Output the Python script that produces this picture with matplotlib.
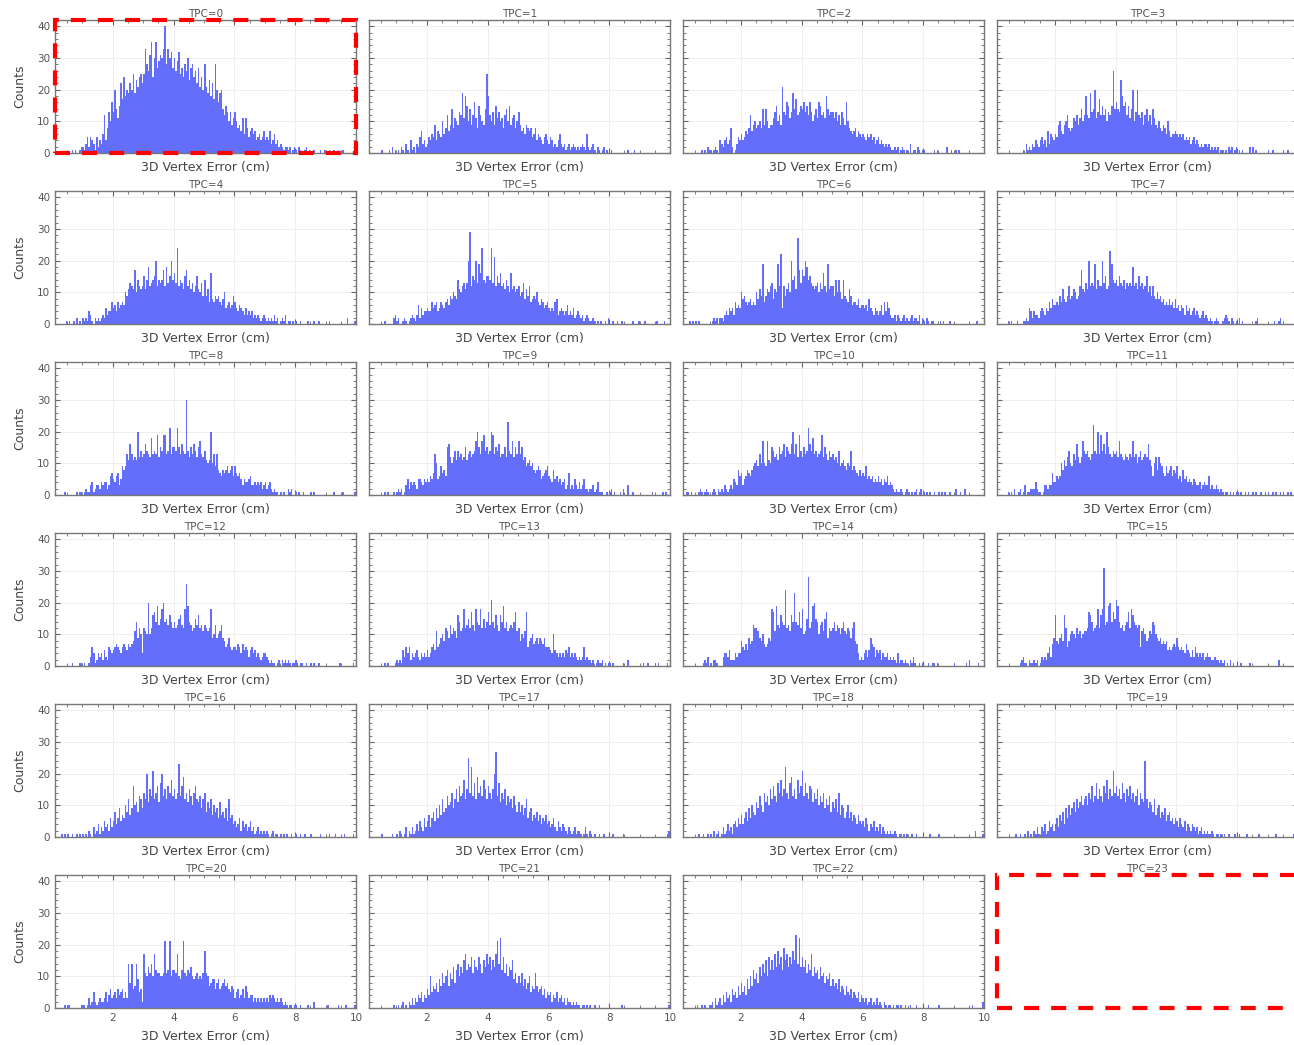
import numpy as np
import matplotlib
matplotlib.use("Agg")
import matplotlib.pyplot as plt
from matplotlib.ticker import MultipleLocator
from matplotlib.patches import Rectangle

# Histogram counts per TPC, 0.05 cm bins from 0 to 10 cm (one line = 1 cm)
tpc0 = [0,0,0,0,0,0,0,0,0,0,0,0,0,1,0,1,0,0,1,2,
        2,1,3,5,2,5,4,3,1,5,2,4,3,6,12,4,8,13,10,16,
        13,20,14,11,15,22,17,24,18,20,19,22,20,25,19,23,21,24,25,22,
        25,33,28,26,31,35,24,30,35,27,29,31,30,33,40,28,33,30,32,27,
        30,26,29,32,25,27,24,28,26,30,23,27,28,24,26,22,27,21,24,20,
        28,21,19,23,18,22,17,28,20,16,19,20,14,12,15,13,10,13,9,11,
        13,10,8,9,7,11,6,11,8,5,7,8,6,7,4,5,6,4,5,7,
        4,5,4,7,3,4,6,3,4,2,3,2,1,2,2,1,2,0,1,2,
        1,0,2,1,0,0,1,2,0,1,0,0,1,0,0,0,1,0,0,1,
        0,0,1,0,0,1,0,0,1,0,0,1,0,0,0,0,0,0,0,1]
tpc1 = [0,0,0,0,0,0,0,0,0,0,1,0,0,0,0,1,0,2,0,1,
        0,1,0,2,1,0,3,1,0,4,1,2,0,3,2,5,7,3,4,2,
        3,5,4,6,5,9,4,7,6,5,10,6,8,12,7,9,14,8,11,10,
        9,13,12,19,11,18,15,10,14,9,12,16,11,8,15,12,10,9,14,25,
        18,12,10,13,9,15,11,13,10,11,8,12,14,10,15,9,11,12,8,10,
        13,9,7,8,6,9,8,7,8,5,6,8,4,6,5,4,3,5,6,4,
        3,5,4,2,3,2,4,6,3,2,3,1,2,3,1,2,3,2,1,2,
        1,2,3,2,1,6,2,1,2,3,1,0,2,1,0,1,2,0,1,0,
        0,1,0,0,0,0,0,0,0,0,0,0,1,0,0,0,1,0,0,0,
        0,0,0,0,0,0,0,0,0,0,0,0,0,0,0,0,0,0,0,0]
tpc2 = [0,0,0,0,0,0,0,0,0,0,0,0,0,0,1,0,1,0,2,1,
        1,0,1,2,1,0,4,3,2,4,5,3,4,8,2,0,1,3,5,4,
        6,4,5,7,6,8,12,7,9,10,8,9,10,8,14,9,14,10,8,9,
        9,11,13,15,10,12,9,21,13,12,16,15,11,13,19,14,17,12,13,15,
        14,16,13,15,12,16,13,10,12,14,11,16,15,12,13,11,18,14,12,13,
        13,11,13,10,12,9,13,11,9,16,10,8,7,6,7,8,5,7,6,5,
        6,5,4,6,5,6,4,5,3,4,5,3,4,3,2,3,2,3,2,1,
        1,2,1,2,0,1,2,1,0,1,0,3,0,1,1,0,2,1,0,1,
        1,0,0,0,0,0,0,1,0,1,0,0,0,0,0,2,0,0,1,0,
        0,1,0,1,0,0,0,0,0,0,0,0,0,0,0,0,0,0,0,0]
tpc3 = [0,0,0,0,0,0,0,0,0,0,0,0,0,0,0,0,0,0,0,1,
        0,3,1,2,1,3,2,4,3,2,4,5,3,4,2,7,3,6,5,4,
        6,5,9,10,7,6,9,10,12,8,7,8,11,10,12,9,11,14,10,12,
        18,12,11,19,13,14,20,11,13,17,12,15,12,14,10,13,12,15,26,14,
        16,14,13,23,18,15,16,12,15,11,14,20,10,13,20,12,11,13,9,12,
        14,10,12,9,14,11,9,8,10,8,7,9,8,6,10,7,5,6,6,7,
        6,5,6,5,6,4,5,4,5,3,4,5,3,4,3,2,3,2,3,3,
        2,3,1,2,1,2,1,2,0,1,1,0,1,0,2,1,2,0,1,2,
        0,1,0,1,0,0,0,0,2,0,2,0,1,0,0,0,0,0,0,0,
        1,0,0,1,0,0,0,0,0,0,1,0,0,1,0,0,0,0,0,0]
tpc4 = [0,0,0,0,0,0,0,0,0,1,0,1,0,0,1,0,2,0,1,0,
        2,1,2,1,4,3,1,0,2,1,2,1,2,3,2,5,3,4,4,7,
        5,6,4,7,5,6,7,6,10,9,11,13,12,11,17,10,14,12,11,12,
        15,11,14,18,12,13,14,15,20,12,14,13,14,17,12,18,13,15,20,14,
        16,13,24,12,14,13,11,15,17,12,14,11,13,10,12,15,11,10,13,9,
        14,9,11,7,16,8,7,9,8,9,7,6,8,10,5,6,7,5,6,9,
        7,5,4,6,5,4,3,5,3,4,3,4,2,3,2,3,2,1,2,3,
        2,1,2,1,2,1,3,1,2,0,1,2,1,3,0,1,1,0,1,0,
        1,0,0,1,0,0,0,0,1,0,0,0,1,0,0,1,0,0,0,0,
        0,0,1,0,0,0,0,0,0,0,0,0,0,0,2,0,0,0,0,1]
tpc5 = [0,0,0,0,0,0,0,0,0,0,0,0,1,0,0,0,0,0,2,3,
        1,2,0,0,1,2,1,0,1,2,3,2,1,3,6,2,5,3,4,4,
        5,4,4,7,5,6,7,4,5,7,6,5,7,8,6,9,8,10,9,8,
        14,11,10,12,13,11,13,20,29,12,15,14,20,13,19,16,24,14,13,15,
        15,14,24,13,21,12,15,13,16,12,13,11,14,12,10,16,11,12,10,11,
        12,9,10,13,8,11,9,12,7,8,9,8,10,7,6,8,7,5,6,7,
        5,4,5,4,7,8,3,4,5,4,3,4,6,3,4,3,5,2,3,4,
        3,2,3,1,2,3,2,1,1,2,1,0,1,0,1,0,0,1,0,2,
        0,0,1,0,0,1,0,0,1,0,0,0,0,0,0,1,0,0,0,1,
        0,0,0,1,0,0,0,0,0,0,0,1,0,0,0,0,1,0,0,0]
tpc6 = [0,0,0,0,0,0,1,0,1,0,1,0,1,0,0,0,0,0,0,0,
        0,1,2,1,2,0,2,2,1,3,4,3,5,4,5,3,7,5,6,5,
        10,8,9,7,6,7,8,6,7,6,10,8,11,9,19,7,9,11,10,12,
        13,8,11,10,19,12,22,5,12,9,11,13,10,20,14,15,11,27,17,13,
        17,15,20,18,14,15,13,12,11,12,13,10,13,11,16,12,10,19,11,12,
        12,9,14,10,14,10,8,14,9,8,7,11,9,6,7,7,6,8,5,6,
        6,5,6,4,8,5,4,3,5,4,3,4,6,3,7,4,7,5,3,2,
        2,3,1,3,2,1,2,3,1,2,1,2,3,1,2,2,1,3,0,2,
        1,0,2,1,0,1,1,0,0,0,0,1,0,1,0,0,0,1,0,0,
        0,0,0,0,0,0,0,0,0,0,0,0,0,0,0,1,0,0,0,0]
tpc7 = [0,0,0,0,0,0,0,0,0,1,0,1,0,0,0,1,0,0,0,1,
        1,2,1,5,4,2,4,3,3,2,4,5,4,3,5,4,7,5,8,6,
        6,7,6,9,7,11,8,7,9,12,8,9,11,10,8,9,12,17,11,10,
        13,11,20,12,13,12,19,11,14,12,12,20,13,15,11,12,23,19,14,13,
        14,12,15,13,12,14,11,13,12,13,12,18,12,13,11,15,12,13,11,12,
        15,10,12,9,12,9,8,10,8,9,7,8,6,7,6,8,6,7,5,8,
        5,6,4,6,5,3,6,4,5,3,4,5,3,4,3,2,3,4,2,3,
        2,1,2,1,0,1,2,1,0,0,1,2,3,2,1,0,2,1,0,1,
        0,2,0,1,0,0,0,0,0,0,0,0,1,2,0,0,0,0,0,0,
        0,0,0,0,1,0,0,1,2,0,1,0,0,0,0,0,0,0,0,0]
tpc8 = [0,0,0,0,0,0,0,0,1,0,0,0,0,0,0,0,1,0,1,1,
        0,1,2,1,1,3,4,1,2,3,3,2,4,3,4,4,2,3,6,7,
        5,4,6,7,3,5,9,8,9,13,11,16,13,11,12,11,20,12,14,12,
        13,16,14,13,12,18,13,14,13,19,12,15,14,19,19,13,14,21,13,15,
        15,14,21,15,13,16,14,13,30,14,12,15,13,16,14,12,15,17,13,12,
        14,11,10,11,20,10,13,9,13,8,7,6,8,7,8,9,7,8,9,6,
        9,7,6,7,5,3,5,4,4,5,6,3,3,4,3,4,3,4,2,3,
        4,2,3,4,2,1,2,1,1,0,1,0,1,0,0,2,1,2,0,0,
        1,0,1,0,0,1,0,0,0,0,1,0,1,0,0,0,0,0,0,0,
        0,0,0,0,0,1,0,0,0,0,0,1,0,0,0,0,0,0,0,1]
tpc9 = [0,0,0,0,0,0,0,0,0,0,0,0,1,0,1,0,0,0,1,0,
        1,2,1,2,0,1,3,5,2,4,3,4,3,2,5,5,4,3,5,4,
        5,4,6,5,7,13,10,5,6,9,7,8,6,15,16,12,10,12,14,11,
        14,12,13,11,12,15,11,13,14,12,13,14,17,20,15,13,17,19,14,15,
        13,14,20,19,13,15,14,16,12,13,13,15,12,23,14,13,17,12,15,13,
        17,13,15,11,12,9,10,11,9,10,8,7,8,9,8,5,6,7,8,9,
        6,5,4,8,5,6,4,5,3,4,5,2,3,7,2,3,2,5,3,2,
        4,2,3,5,2,2,1,2,2,3,1,2,4,1,1,1,0,0,1,0,
        1,2,0,1,0,0,0,1,0,2,0,0,3,0,0,1,0,0,0,0,
        0,0,0,0,0,0,0,0,1,0,0,0,0,0,0,1,0,1,0,0]
tpc10 = [0,0,0,0,1,1,0,1,0,0,0,0,1,2,1,0,1,2,1,0,
         0,1,2,1,0,2,1,2,1,3,2,1,2,3,2,5,4,3,8,6,
         7,3,5,6,8,7,6,8,9,10,11,9,13,10,17,10,9,17,11,10,
         15,14,12,13,11,15,13,14,16,12,15,14,13,16,20,13,16,12,19,14,
         12,15,13,14,21,16,14,18,13,14,12,13,14,19,12,15,13,11,14,12,
         13,11,12,10,14,9,10,11,9,8,10,9,14,8,9,8,7,6,8,6,
         7,6,9,5,6,5,6,4,5,4,6,4,5,3,5,4,6,3,4,3,
         2,1,2,1,1,2,1,0,1,2,1,0,1,0,1,2,0,1,2,0,
         1,0,1,0,1,0,0,1,0,0,1,0,1,0,1,0,0,1,0,0,
         0,2,0,0,1,0,0,2,0,0,0,0,0,0,0,0,0,0,0,0]
tpc11 = [0,0,0,0,0,0,0,0,0,1,0,1,0,2,0,0,1,2,0,1,
         3,0,1,1,2,2,2,4,2,1,1,0,1,3,3,2,3,3,7,4,
         4,6,5,6,10,8,11,9,12,14,10,9,13,11,16,12,10,12,17,14,
         13,14,12,11,13,22,14,13,20,13,19,14,16,13,20,15,13,12,14,13,
         14,12,17,13,12,11,13,12,11,13,12,17,12,13,10,12,14,11,12,13,
         12,16,11,9,6,10,12,8,12,10,9,7,6,9,7,8,9,6,8,7,
         9,5,6,4,8,5,6,4,5,4,3,5,4,3,3,4,2,3,4,3,
         3,6,2,3,2,2,3,2,1,2,1,0,1,1,0,1,0,1,0,1,
         1,0,1,0,0,1,0,1,0,0,1,0,1,0,0,1,0,0,1,0,
         1,0,0,1,0,1,0,0,1,0,1,0,0,1,0,1,0,0,0,0]
tpc12 = [0,0,0,0,0,0,0,0,0,0,0,0,0,1,0,0,0,0,1,1,
         0,1,0,0,1,3,6,4,1,2,4,3,4,2,5,3,2,6,5,4,
         5,6,7,6,5,4,6,7,6,5,7,6,7,8,11,14,9,12,10,4,
         12,11,10,20,10,12,16,17,14,19,13,15,18,20,14,15,13,16,14,12,
         14,12,13,15,16,13,12,18,26,19,14,13,11,12,15,13,16,12,13,11,
         13,12,11,12,18,9,10,13,9,10,11,13,9,8,6,7,9,6,5,6,
         6,5,7,6,4,7,5,6,5,3,5,6,4,5,3,4,3,2,3,4,
         4,3,2,1,2,1,1,0,1,2,0,2,1,2,1,2,1,0,1,1,
         2,1,0,1,1,0,0,1,0,0,1,0,1,0,0,1,0,0,0,0,
         0,0,0,0,0,0,0,0,0,1,0,0,0,0,0,0,0,0,1,0]
tpc13 = [0,0,0,0,0,0,0,0,0,0,0,0,1,0,1,0,0,0,0,1,
         2,1,2,1,5,3,6,4,6,2,4,3,4,5,3,2,4,3,4,3,
         5,3,4,6,7,5,11,6,7,9,10,8,12,11,9,13,10,12,11,9,
         16,14,11,12,18,12,13,15,12,17,13,11,18,14,13,18,12,15,12,14,
         17,13,21,14,12,16,13,11,16,14,19,12,14,11,12,13,12,14,17,11,
         12,8,10,9,11,17,6,8,9,10,7,8,9,7,9,8,7,9,6,6,
         6,5,4,10,5,4,3,4,3,4,3,5,4,6,3,4,3,4,3,2,
         3,2,3,6,2,3,2,2,1,2,0,1,2,1,1,2,0,1,0,1,
         1,0,1,0,0,0,0,0,0,1,0,0,2,0,0,0,0,0,0,0,
         0,0,1,0,0,1,0,0,0,0,1,0,1,0,0,0,0,0,1,0]
tpc14 = [0,0,0,0,0,0,0,0,0,0,0,0,0,0,0,1,2,1,3,0,
         1,0,2,2,1,0,0,0,3,4,4,3,5,2,2,2,4,3,4,4,
         8,6,5,7,5,9,7,8,13,12,12,11,9,8,10,7,6,7,9,8,
         18,17,11,19,13,12,16,14,13,24,12,13,11,16,14,23,14,13,17,12,
         18,10,11,15,28,12,14,19,20,15,14,10,13,14,11,15,17,9,12,11,
         12,14,11,13,12,10,12,14,11,10,12,11,9,12,14,8,7,4,2,3,
         2,4,5,3,5,9,7,6,3,5,4,5,2,4,3,3,4,2,3,2,
         3,2,1,4,1,2,2,1,2,1,0,2,1,3,1,0,0,1,0,1,
         0,0,0,1,0,0,1,1,0,1,0,0,0,0,0,0,0,0,0,0,
         1,0,0,0,0,0,0,0,1,0,2,0,0,0,0,0,1,0,0,0]
tpc15 = [0,0,0,0,0,0,0,0,0,0,0,0,0,0,0,0,0,1,2,3,
         1,1,0,2,1,1,2,1,2,0,1,3,2,3,2,4,6,3,7,9,
         16,8,7,9,10,8,16,12,6,8,10,11,10,9,12,10,11,9,10,11,
         11,12,17,16,14,11,12,13,18,12,16,18,31,13,14,19,20,14,17,15,
         21,19,14,12,13,11,13,14,17,12,18,16,14,13,12,13,6,11,12,10,
         8,9,11,10,14,13,10,9,8,9,7,8,7,8,5,6,5,6,7,6,
         9,6,5,6,5,4,7,5,4,3,5,3,6,4,3,4,3,4,2,3,
         4,3,3,2,2,3,2,2,1,2,1,2,0,1,0,2,0,1,0,0,
         0,0,1,0,0,0,0,0,1,0,0,0,0,0,0,0,0,0,0,0,
         0,0,0,0,0,0,0,2,0,0,0,0,0,0,0,0,0,0,0,0]
tpc16 = [0,0,0,0,0,0,1,0,1,0,1,0,0,1,0,0,1,0,1,0,
         1,0,1,0,2,1,0,3,1,2,4,1,3,2,5,3,4,2,6,3,
         5,8,4,6,9,5,7,6,10,8,12,7,9,16,10,11,8,13,12,9,
         14,12,20,11,15,13,21,12,14,16,11,17,20,13,15,12,16,14,18,13,
         15,12,14,23,13,16,19,12,14,11,15,13,10,14,16,12,11,13,9,12,
         14,8,11,9,12,7,10,8,9,6,11,7,8,6,9,5,12,6,7,4,
         5,3,4,6,2,5,3,4,2,3,5,2,3,1,2,3,1,2,1,2,
         1,2,1,0,1,2,0,1,1,0,1,0,1,0,1,0,0,1,0,0,
         1,0,0,1,0,0,1,0,0,0,1,0,0,0,0,0,1,0,0,0,
         0,0,1,0,0,0,1,0,0,0,0,0,1,0,0,0,0,0,1,0]
tpc17 = [0,0,0,0,0,0,0,0,0,0,1,0,0,0,0,0,0,1,0,0,
         1,0,2,1,0,1,3,0,2,1,3,1,2,4,2,5,3,2,6,3,
         5,7,3,6,8,5,9,6,10,7,12,8,9,13,10,11,14,9,12,15,
         11,16,13,14,18,12,15,25,14,22,13,17,12,19,14,16,13,18,15,12,
         16,14,12,15,20,27,13,17,11,14,12,15,10,13,11,12,9,13,10,8,
         11,8,10,7,9,12,6,8,9,5,7,6,8,5,7,4,6,5,7,4,
         5,3,4,6,3,2,5,3,2,4,3,2,1,3,2,1,2,3,1,2,
         2,1,0,1,3,1,0,2,1,0,1,0,0,1,0,0,1,0,0,0,
         0,0,1,0,0,0,0,0,0,1,0,0,0,0,0,0,0,0,0,0,
         0,0,0,0,0,0,0,0,0,0,0,0,0,0,0,0,0,0,1,2]
tpc18 = [0,0,0,0,0,0,0,0,0,0,0,0,1,0,0,1,0,0,1,0,
         1,0,2,0,1,2,0,1,3,1,2,4,2,3,1,4,5,3,6,4,
         7,4,6,8,5,9,6,10,8,7,11,9,13,10,8,14,11,13,10,15,
         12,16,13,11,17,14,18,13,15,22,14,12,17,19,13,15,12,18,14,16,
         21,13,17,14,12,16,15,11,14,12,15,10,13,11,14,9,12,10,13,8,
         11,9,12,8,14,7,10,9,6,8,10,6,8,5,7,6,4,7,5,4,
         5,3,6,4,2,4,3,5,2,3,2,4,1,3,2,1,2,1,2,1,
         1,2,1,0,1,1,0,1,0,1,0,0,1,0,0,1,0,0,0,0,
         0,0,0,0,1,0,0,0,0,0,1,0,0,0,0,0,0,0,0,0,
         0,0,0,0,0,0,0,0,0,0,0,0,0,0,2,0,0,0,0,1]
tpc19 = [0,0,0,0,0,0,0,0,0,0,0,0,0,0,1,0,0,1,0,0,
         1,0,2,0,1,0,2,1,3,1,0,3,2,4,1,2,5,3,4,2,
         4,6,3,7,5,8,4,9,6,10,7,9,11,8,12,9,11,13,10,12,
         13,10,14,12,16,11,13,17,12,15,13,11,16,14,18,12,15,13,21,14,
         16,13,15,12,17,14,11,15,13,16,12,14,11,13,15,10,14,12,11,24,
         12,9,11,10,8,12,7,9,10,6,8,7,9,5,7,8,5,6,4,6,
         5,3,6,4,3,5,2,4,3,2,4,3,2,3,1,2,3,1,2,1,
         2,1,1,2,1,0,1,1,0,1,0,1,0,0,1,0,0,0,1,0,
         0,1,0,0,0,0,1,0,0,0,0,0,0,0,1,0,0,0,0,0,
         0,0,0,0,0,1,0,0,0,0,0,0,0,0,0,0,0,1,0,0]
tpc20 = [0,0,0,0,0,0,0,0,1,0,1,1,0,0,0,0,0,0,0,1,
         1,1,0,1,3,1,2,5,2,1,2,3,2,2,3,5,2,4,6,3,
         4,5,3,6,4,5,6,3,5,3,14,8,14,6,7,14,9,5,6,2,
         17,11,10,13,11,14,10,17,12,11,11,10,10,11,21,11,12,21,10,12,
         12,11,17,10,9,12,21,11,10,12,11,13,10,9,10,11,9,10,9,11,
         18,11,10,7,8,9,9,6,8,9,6,7,8,9,7,8,6,5,7,6,
         3,5,6,3,4,6,3,7,5,3,4,4,2,3,2,3,2,3,2,3,
         2,3,2,4,3,4,3,2,3,2,3,2,1,2,1,0,1,1,0,1,
         1,0,0,1,0,0,0,0,1,0,0,0,2,0,0,0,0,0,0,0,
         0,1,0,0,0,0,0,0,1,0,0,0,0,1,0,0,0,0,0,1]
tpc21 = [0,0,0,0,0,0,0,0,0,0,0,0,0,0,0,0,0,0,1,0,
         0,1,0,1,2,0,1,0,2,1,3,1,3,2,4,3,5,2,4,3,
         6,4,10,5,7,6,8,5,9,7,11,8,10,12,7,11,9,13,8,12,
         14,10,13,11,15,17,12,14,13,16,11,15,13,12,16,14,11,15,13,17,
         14,16,12,15,13,17,21,14,22,12,16,11,14,10,13,12,15,9,11,8,
         10,8,11,7,9,6,8,10,5,7,6,11,7,5,6,7,4,6,3,5,
         4,5,2,4,3,5,2,3,4,2,3,1,3,2,2,1,2,1,2,1,
         1,0,1,1,0,1,0,1,0,0,1,0,0,1,0,0,0,0,0,0,
         0,0,0,0,0,0,0,0,1,0,0,0,0,0,0,0,0,0,0,0,
         0,0,0,0,0,0,0,0,0,0,0,0,0,0,0,0,0,0,0,1]
tpc22 = [0,0,0,0,0,0,0,0,0,0,0,1,0,0,1,0,1,0,0,1,
         1,2,0,3,1,2,3,1,4,2,5,3,4,2,6,4,5,3,7,4,
         8,5,7,4,9,6,10,7,12,9,11,8,13,10,14,11,15,10,16,12,
         15,12,17,13,18,14,16,12,19,15,17,13,16,14,18,15,23,14,22,13,
         16,13,15,11,14,12,17,10,13,11,12,9,13,10,11,8,10,9,11,7,
         9,7,8,6,9,5,7,6,4,7,5,4,6,3,5,4,3,5,2,4,
         3,2,3,1,2,3,1,2,1,3,1,2,1,0,2,1,0,1,1,0,
         1,0,1,1,0,1,0,0,1,0,0,1,0,0,0,1,0,0,0,0,
         0,0,0,1,0,0,0,0,0,0,1,0,0,0,0,0,0,0,0,0,
         0,0,0,0,0,0,0,0,0,0,0,0,1,0,0,0,0,0,0,2]

tpc_counts = [tpc0, tpc1, tpc2, tpc3, tpc4, tpc5, tpc6, tpc7, tpc8, tpc9,
              tpc10, tpc11, tpc12, tpc13, tpc14, tpc15, tpc16, tpc17,
              tpc18, tpc19, tpc20, tpc21, tpc22]
tpc_ids = list(range(24))
highlighted = [0, 23]

bin_edges = np.linspace(0.0, 10.0, 201)
x_range = (0.1, 10.0)
y_range = (0, 42)

bar_color = "#636efa"
text_color = "#444444"

fig, axes = plt.subplots(6, 4, sharex=True, sharey=True,
                         figsize=(12.94, 10.45), dpi=100)
fig.subplots_adjust(left=55 / 1294, right=1298 / 1294,
                    bottom=1 - 1008 / 1045, top=1 - 20 / 1045,
                    wspace=13 / 301, hspace=38 / 133)

for idx, ax in enumerate(axes.flat):
    ax.set_title(f"TPC={tpc_ids[idx]}", fontsize=7.5, color="#555555", pad=2.5)
    if idx < len(tpc_counts):
        counts = np.asarray(tpc_counts[idx], dtype=float)
        ax.hist(bin_edges[:-1], bins=bin_edges, weights=counts,
                color=bar_color, edgecolor="none", zorder=2)
        ax.set_axisbelow(True)
        ax.grid(True, which="major", color="#eeeeee", linewidth=0.7)
        ax.xaxis.set_major_locator(MultipleLocator(2))
        ax.xaxis.set_minor_locator(MultipleLocator(0.5))
        ax.yaxis.set_major_locator(MultipleLocator(10))
        ax.yaxis.set_minor_locator(MultipleLocator(2))
        ax.tick_params(which="both", direction="in", top=True, right=True,
                       colors="#666666", labelcolor="#555555", labelsize=7.5)
        ax.tick_params(which="major", length=3.5, width=0.8)
        ax.tick_params(which="minor", length=2, width=0.6)
        for sp in ax.spines.values():
            sp.set_color("#777777")
            sp.set_linewidth(1.0)
        ax.set_xlabel("3D Vertex Error (cm)", fontsize=9, color=text_color,
                      labelpad=5.5)
        if idx % 4 == 0:
            ax.set_ylabel("Counts", fontsize=9, color=text_color, labelpad=8)
    else:
        ax.axis("off")
    ax.set_xlim(*x_range)
    ax.set_ylim(*y_range)
    if tpc_ids[idx] in highlighted:
        ax.add_patch(Rectangle((0, 0), 1, 1, transform=ax.transAxes,
                               fill=False, edgecolor="red", linewidth=3,
                               linestyle=(0, (3.6, 2.9)), clip_on=False,
                               zorder=10))

fig.savefig("out.png", dpi=100)
